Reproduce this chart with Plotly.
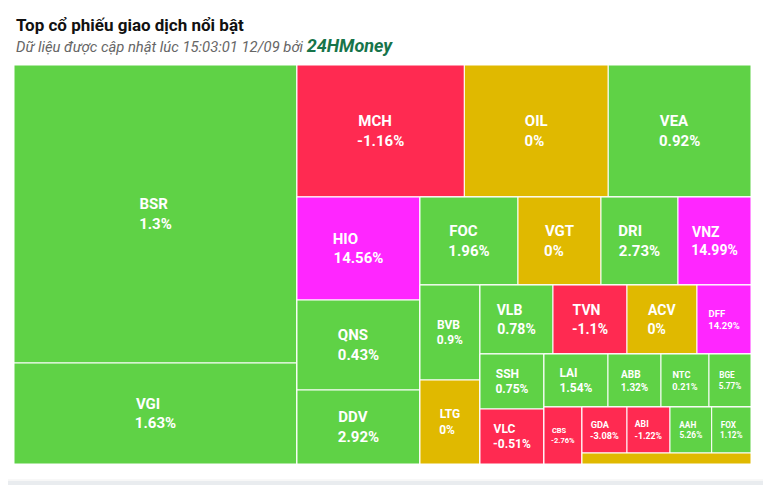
import plotly.graph_objects as go

# ---------------- data ----------------
tickers = ["BSR", "VGI", "MCH", "OIL", "VEA", "HIO", "QNS", "DDV", "FOC", "VGT",
           "DRI", "VNZ", "BVB", "LTG", "VLB", "TVN", "ACV", "DFF", "SSH", "VLC",
           "LAI", "ABB", "NTC", "BGE", "CBS", "GDA", "ABI", "AAH", "FOX", ""]
pct_change = [1.3, 1.63, -1.16, 0, 0.92, 14.56, 0.43, 2.92, 1.96, 0,
              2.73, 14.99, 0.9, 0, 0.78, -1.1, 0, 14.29, 0.75, -0.51,
              1.54, 1.32, 0.21, 5.77, -2.76, -3.08, -1.22, 5.26, 1.12, 0]
trade_value = [84334, 28583, 22100, 19000, 18850, 12669, 11070, 9102, 8624, 7304,
               6776, 6424, 5700, 5040, 5037, 5106, 4830, 3726, 3520, 3520,
               3392, 2809, 2544, 2226, 2166, 2070, 1978, 1918, 1808, 1859]
# group each ticker belongs to (Highcharts-like alternating squarified rows)
ticker_group = ["g0", "g0", "g1", "g1", "g1", "g2", "g2", "g2", "g3", "g3",
                "g3", "g3", "g4", "g4", "g5", "g5", "g5", "g5", "g6", "g6",
                "g7", "g7", "g7", "g7", "g8", "g9", "g9", "g9", "g9", "g10"]
# structural groups: id -> parent (listed in drawing order)
group_ids = ["root", "g0", "r1", "g1", "r2", "g2", "r3", "g3", "r4", "g4",
             "r5", "g5", "r6", "g6", "r7", "g7", "r8", "g8", "r9", "g9", "g10"]
group_parents = ["", "root", "root", "r1", "r1", "r2", "r2", "r3", "r3", "r4",
                 "r4", "r5", "r5", "r6", "r6", "r7", "r7", "r8", "r8", "r9", "r9"]
label_font_size = [15, 15, 15, 15, 15, 15, 15, 15, 15, 15,
                   15, 14, 12, 12, 14, 14, 14, 9.5, 12, 12,
                   12, 10, 9.2, 8.2, 7.5, 9.2, 8.7, 8.3, 8.2, 8]

GREEN, RED, YELLOW, PURPLE = "#5fd246", "#ff2a51", "#e0b900", "#ff26ff"

# approximate Roboto Bold advance widths (em), used to left-align the two lines
CHAR_EM = {"A": .66, "B": .63, "C": .65, "D": .64, "E": .55, "F": .54, "G": .68,
           "H": .70, "I": .29, "L": .54, "M": .86, "N": .70, "O": .67, "Q": .67,
           "R": .63, "S": .61, "T": .62, "V": .65, "X": .63, "Z": .60,
           ".": .277, "%": .723, "-": .281}
NBSP_EM = 0.243


def text_em(s):
    return sum(CHAR_EM.get(c, 0.5615) for c in s)


def colour(p):
    if p >= 6.9:
        return PURPLE
    if p > 0:
        return GREEN
    if p < 0:
        return RED
    return YELLOW


def left_aligned(a, b):
    d = text_em(b) - text_em(a)
    n = int(round(abs(d) / NBSP_EM))
    pad = "\u00a0" * n
    if d > 0:
        a = a + pad
    else:
        b = b + pad
    return f"<b>{a}</b><br><b>{b}</b>"


ids, labels, parents, values, colors, templates, sizes = [], [], [], [], [], [], []
for gid, gp in zip(group_ids, group_parents):
    ids.append(gid); labels.append(""); parents.append(gp); values.append(0)
    colors.append("#ffffff"); templates.append(""); sizes.append(10)
for i, t in enumerate(tickers):
    ids.append("t_" + (t or "other")); labels.append(t); parents.append(ticker_group[i])
    values.append(trade_value[i]); colors.append(colour(pct_change[i]))
    templates.append(left_aligned(t, f"{pct_change[i]:g}%") if t else "")
    sizes.append(label_font_size[i])

fig = go.Figure(go.Treemap(
    ids=ids, labels=labels, parents=parents, values=values,
    branchvalues="remainder", sort=False,
    texttemplate=templates,
    textposition="middle center",
    textfont=dict(family="Roboto, Arial, sans-serif", color="white", size=sizes),
    marker=dict(colors=colors, line=dict(color="#ffffff", width=1),
                pad=dict(t=0, l=0, r=0, b=0)),
    tiling=dict(packing="slice-dice", pad=0),
    pathbar=dict(visible=False),
    hoverinfo="label+value",
    root=dict(color="#ffffff"),
))

# the page body has an 8px default margin, so the figure is 763x477
W = 737.0
H = 399.0
fig.update_layout(
    width=763, height=477,
    margin=dict(l=6, r=20, t=57, b=21),
    paper_bgcolor="#ffffff",
    showlegend=False,
    annotations=[
        dict(text="<b>Top cổ phiếu giao dịch nổi bật</b>", xref="paper", yref="paper",
             x=0, y=1 + 40 / H, xanchor="left", yanchor="middle", showarrow=False,
             font=dict(family="Roboto, Arial, sans-serif", size=17, color="#111111")),
        dict(text="<i>Dữ liệu được cập nhật lúc 15:03:01 12/09 bởi </i>"
                  "<b><i><span style='color:#17744a;font-size:18px'>24HMoney</span></i></b>",
             xref="paper", yref="paper",
             x=0, y=1 + 19 / H, xanchor="left", yanchor="middle", showarrow=False,
             font=dict(family="Roboto, Arial, sans-serif", size=14.8, color="#666666")),
    ],
    shapes=[
        dict(type="rect", xref="paper", yref="paper", layer="below",
             x0=-6 / W - 0.01, x1=1 + 20 / W + 0.01, y0=-21 / H - 0.01, y1=-17 / H,
             fillcolor="#e9ecef", line=dict(width=0)),
        dict(type="rect", xref="paper", yref="paper", layer="below",
             x0=-12 / W, x1=1 + 18 / W, y0=-16 / H, y1=1 + 80 / H,
             fillcolor="rgba(0,0,0,0)", line=dict(color="#f0f0f0", width=1)),
    ],
)

fig.write_html("out.html")
